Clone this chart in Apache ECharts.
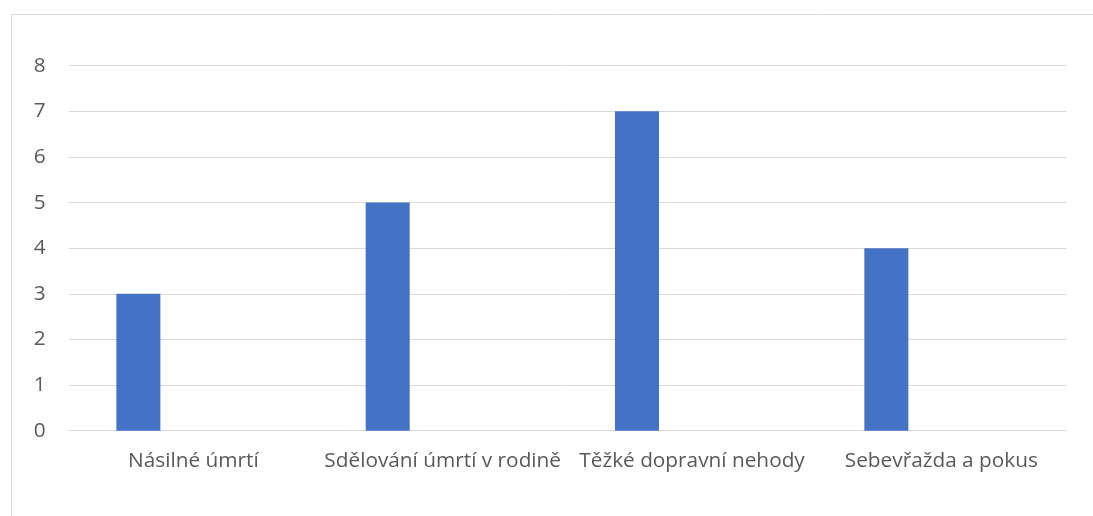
<!DOCTYPE html>
<html>
<head>
<meta charset="utf-8">
<script src="https://cdn.jsdelivr.net/npm/echarts@6/dist/echarts.min.js"></script>
<style>html,body{margin:0;padding:0;background:#fff;}#c{width:1093px;height:516px;}</style>
</head>
<body>
<div id="c"></div>
<script>
var categories = ['Násilné úmrtí', 'Sdělování úmrtí v rodině', 'Těžké dopravní nehody', 'Sebevřažda a pokus'];
var seriesValues = [3, 5, 7, 4];
var emptySeries = [null, null, null, null];
var yTicks = { min: 0, max: 8, interval: 1 };

var chart = echarts.init(document.getElementById('c'), null, { renderer: 'canvas' });
chart.setOption({
  animation: false,
  backgroundColor: '#ffffff',
  graphic: [{
    type: 'rect', silent: true,
    shape: { x: 11.5, y: 14.5, width: 1200, height: 600 },
    style: { fill: 'none', stroke: '#d9d9d9', lineWidth: 1 }
  }],
  grid: { left: 68.7, right: 27, top: 65.7, bottom: 85.3 },
  xAxis: {
    type: 'category',
    data: categories,
    axisLine: { show: true, lineStyle: { color: '#d9d9d9', width: 1 } },
    axisTick: { show: false },
    axisLabel: { color: '#595959', fontFamily: 'Open Sans', fontSize: 20.8, margin: 20, interval: 0 },
    splitLine: { show: false }
  },
  yAxis: {
    type: 'value',
    min: yTicks.min, max: yTicks.max, interval: yTicks.interval,
    axisLine: { show: false },
    axisTick: { show: false },
    axisLabel: { color: '#595959', fontFamily: 'Open Sans', fontSize: 20.8, margin: 23 },
    splitLine: { lineStyle: { color: '#d9d9d9', width: 1 } }
  },
  series: [
    { type: 'bar', data: seriesValues, barWidth: 44, barGap: '150%', itemStyle: { color: '#4472c4' } },
    { type: 'bar', data: emptySeries, barWidth: 44, itemStyle: { color: '#ed7d31' } }
  ]
});
</script>
</body>
</html>
